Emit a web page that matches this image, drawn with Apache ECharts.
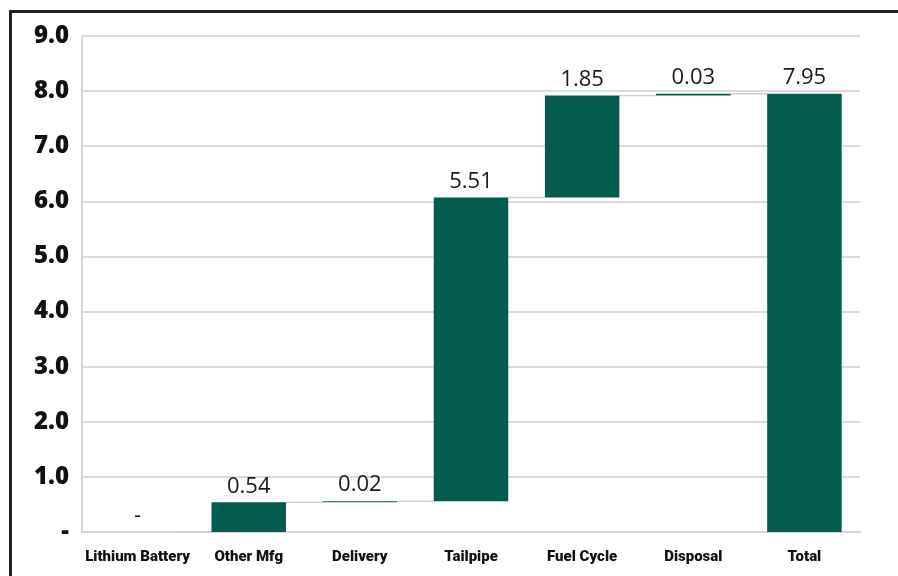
<!DOCTYPE html>
<html>
<head>
<meta charset="utf-8">
<script src="https://cdn.jsdelivr.net/npm/echarts@6/dist/echarts.min.js"></script>
<style>
  html, body { margin: 0; padding: 0; background: #fff; overflow: hidden; }
  #frame { position: absolute; left: 9px; top: 10px; width: 1000px; height: 700px;
           border-top: 3px solid #222; border-left: 3px solid #222; box-sizing: border-box; }
  #chart { position: absolute; left: 0; top: 0; width: 898px; height: 576px; }
</style>
</head>
<body>
<div id="frame"></div>
<div id="chart"></div>
<script>
const categories = ['Lithium Battery', 'Other Mfg', 'Delivery', 'Tailpipe', 'Fuel Cycle', 'Disposal', 'Total'];
const increments = [0, 0.54, 0.02, 5.51, 1.85, 0.03, 7.95];
const isTotal = [false, false, false, false, false, false, true];
const yTicks = [0, 1, 2, 3, 4, 5, 6, 7, 8, 9];

// waterfall bases from running sum
const bases = [];
const tops = [];
let run = 0;
increments.forEach((v, i) => {
  if (isTotal[i]) { bases.push(0); tops.push(v); }
  else { bases.push(+run.toFixed(2)); run += v; tops.push(+run.toFixed(2)); }
});

const BAR_RATIO = 0.67;
const chart = echarts.init(document.getElementById('chart'));
chart.setOption({
  animation: false,
  grid: { left: 82, right: 38, top: 36, bottom: 44 },
  xAxis: {
    type: 'category',
    data: categories,
    axisLine: { show: true, lineStyle: { color: '#d6d6d6', width: 2 } },
    axisTick: { show: false },
    axisLabel: {
      interval: 0,
      color: '#111', fontSize: 15, fontWeight: 900, margin: 18,
      fontFamily: 'Roboto, "Liberation Sans", sans-serif'
    }
  },
  yAxis: {
    type: 'value', min: yTicks[0], max: yTicks[yTicks.length - 1], interval: 1,
    axisLine: { show: true, lineStyle: { color: '#d6d6d6', width: 2 } },
    axisTick: { show: false },
    splitLine: { lineStyle: { color: '#cfcfcf', width: 1.5 } },
    axisLabel: {
      color: '#111', fontSize: 24, fontWeight: 800, margin: 13,
      fontFamily: '"Open Sans", sans-serif',
      formatter: v => v === 0 ? '-' : v.toFixed(1)
    }
  },
  series: [
    {
      type: 'bar', stack: 'w', barWidth: (BAR_RATIO * 100) + '%',
      itemStyle: { color: 'transparent' },
      data: bases, silent: true
    },
    {
      type: 'bar', stack: 'w', barWidth: (BAR_RATIO * 100) + '%',
      itemStyle: { color: '#035a4f' },
      data: increments,
      label: {
        show: true, position: 'top', distance: 5,
        color: '#1a1a1a', fontSize: 22,
        fontFamily: '"Open Sans", sans-serif',
        formatter: p => p.value === 0 ? '-' : p.value.toFixed(2)
      }
    },
    {
      type: 'custom',
      data: tops.slice(0, tops.length - 1).map((t, i) => [i, t]),
      renderItem: (params, api) => {
        const i = api.value(0);
        const p = api.coord([i, api.value(1)]);
        const band = api.size([1, 0])[0];
        const half = band * BAR_RATIO / 2;
        return {
          type: 'line',
          shape: { x1: p[0] + half, y1: p[1], x2: p[0] + band - half, y2: p[1] },
          style: { stroke: '#d0d0d0', lineWidth: 1.5 }
        };
      },
      z: 1
    }
  ]
});
</script>
</body>
</html>
